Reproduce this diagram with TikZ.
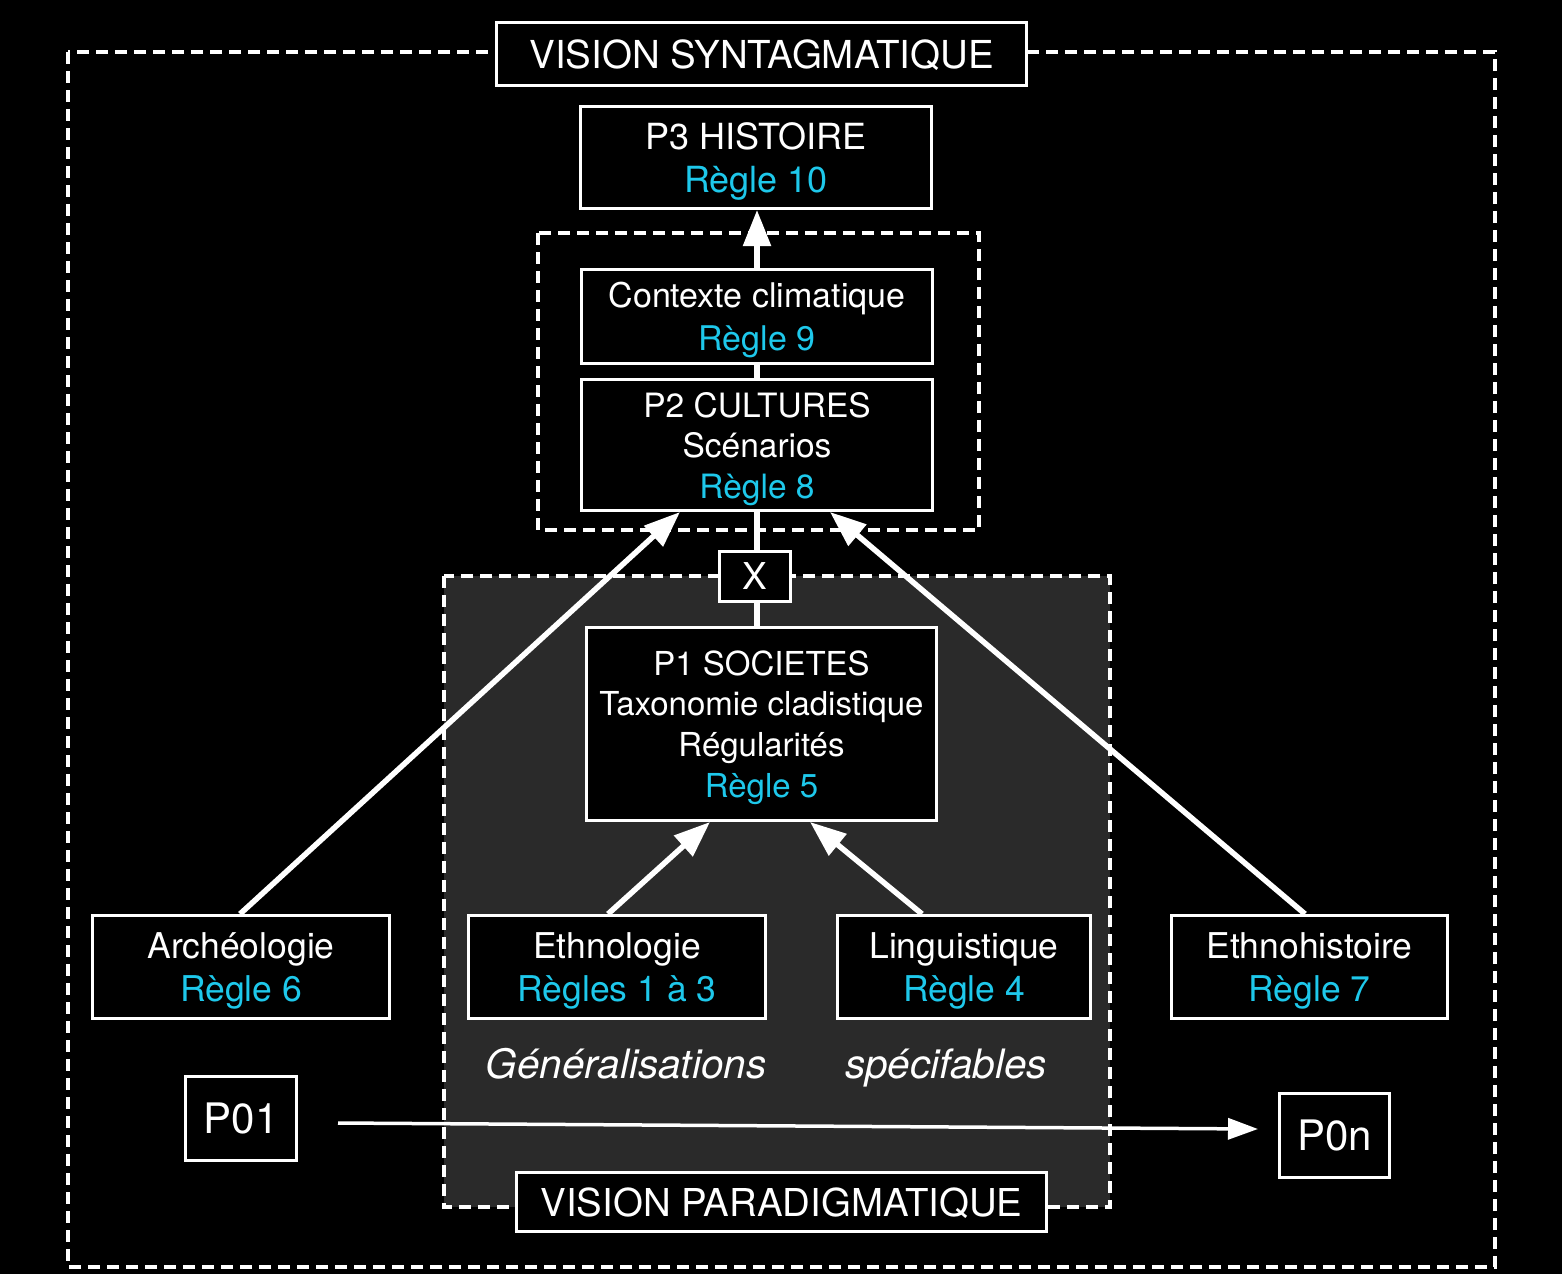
\documentclass[tikz,border=0pt]{standalone}
\usepackage{fontspec}
\setmainfont{TeX Gyre Heros}
\usetikzlibrary{arrows.meta,calc}
\definecolor{cyanr}{RGB}{30,200,235}
\definecolor{grayfill}{RGB}{42,42,42}
\begin{document}
\begin{tikzpicture}[x=1pt,y=-1pt,
  box/.style={draw=white,line width=3pt,fill=black,text=white,align=center,inner sep=0pt,text depth=0pt},
  dashbox/.style={draw=white,line width=3.8pt,dash pattern=on 12pt off 7pt},
  conn/.style={draw=white,line width=5.5pt},
  arr/.style={conn,-{Triangle[length=36pt,width=27pt]}},
  thinarr/.style={draw=white,line width=3.5pt,-{Triangle[length=30pt,width=21pt]}},
  note/.style={text=white,inner sep=0pt,text height=30pt,text depth=9pt,font=\itshape\fontsize{40.5}{46}\selectfont}]
\fill[black] (0,0) rectangle (1562,1274);
\useasboundingbox (0,0) rectangle (1562,1274);
% dashed frames
\draw[dashbox] (68,52) rectangle (1495,1267);
\fill[grayfill] (444,576) rectangle (1110,1207);
\draw[dashbox] (444,576) rectangle (1110,1207);
\draw[dashbox] (538,233) rectangle (979,530);
% nodes
\node[box,minimum width=530pt,minimum height=63pt,font=\fontsize{38.5}{44}\selectfont] (syn) at (761.5,54) {VISION SYNTAGMATIQUE};
\node[box,minimum width=351pt,minimum height=102pt,font=\fontsize{36}{43}\selectfont] (p3) at (756,157.5) {P3 HISTOIRE\\\textcolor{cyanr}{Règle 10}};
\node[box,minimum width=351pt,minimum height=94pt,font=\fontsize{34}{43}\selectfont] (ctx) at (757,316.5) {Contexte climatique\\\textcolor{cyanr}{Règle 9}};
\node[box,minimum width=351pt,minimum height=131pt,font=\fontsize{33.5}{40.5}\selectfont] (p2) at (757,445) {P2 CULTURES\\Scénarios\\\textcolor{cyanr}{Règle 8}};
\node[box,minimum width=71pt,minimum height=50pt,font=\fontsize{37}{42}\selectfont] (X) at (755,576.5) {X};
\node[box,minimum width=350pt,minimum height=193pt,font=\fontsize{33}{40.7}\selectfont] (p1) at (761.5,724) {P1 SOCIETES\\Taxonomie cladistique\\Régularités\\\textcolor{cyanr}{Règle 5}};
\node[box,minimum width=297pt,minimum height=103pt,font=\fontsize{35.5}{43}\selectfont] (arch) at (241,967) {Archéologie\\\textcolor{cyanr}{Règle 6}};
\node[box,minimum width=297pt,minimum height=103pt,font=\fontsize{35.5}{43}\selectfont] (ethno) at (617,967) {Ethnologie\\\textcolor{cyanr}{Règles 1 à 3}};
\node[box,minimum width=253pt,minimum height=103pt,font=\fontsize{35.5}{43}\selectfont] (ling) at (964,967) {Linguistique\\\textcolor{cyanr}{Règle 4}};
\node[box,minimum width=276pt,minimum height=103pt,font=\fontsize{35.5}{43}\selectfont] (ethh) at (1309.5,967) {Ethnohistoire\\\textcolor{cyanr}{Règle 7}};
\node[box,minimum width=111pt,minimum height=84pt,font=\fontsize{42}{46}\selectfont] (p01) at (241,1118.5) {P01};
\node[box,minimum width=110pt,minimum height=84pt,font=\fontsize{42}{46}\selectfont] (p0n) at (1334.5,1135.5) {P0n};
\node[box,minimum width=530pt,minimum height=59pt,font=\fontsize{38.4}{44}\selectfont] (para) at (781.5,1202) {VISION PARADIGMATIQUE};
\node[note] (gen) at (626,1068) {Généralisations};
\node[note] (spec) at (946,1068) {spécifables};
% connectors
\draw[conn] (ctx.south) -- (ctx.south |- p2.north);
\draw[conn] (p2.south) -- (p2.south |- X.north);
\draw[conn] (X.south -| p2.south) -- (p2.south |- p1.north);
\draw[arr] (ctx.north) -- (ctx.north |- p3.south);
\draw[arr] ([xshift=-1pt]arch.north) -- ([xshift=-77pt]p2.south);
\draw[arr] ([xshift=-4.5pt]ethh.north) -- ([xshift=73pt]p2.south);
\draw[arr] ([xshift=-9pt]ethno.north) -- ([xshift=-51.5pt]p1.south);
\draw[arr] ([xshift=-42pt]ling.north) -- ([xshift=48.5pt]p1.south);
\draw[thinarr] ([xshift=40pt,yshift=-4.5pt]p01.east) -- ([xshift=-20pt,yshift=6.5pt]p0n.west);
\end{tikzpicture}
\end{document}
